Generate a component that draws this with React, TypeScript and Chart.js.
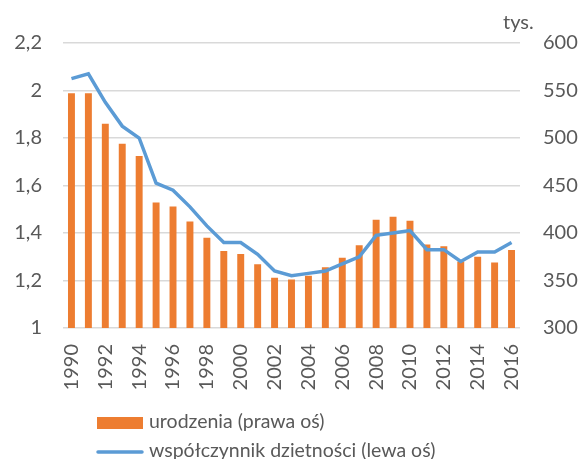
import React, { useEffect, useRef } from "react";
import { Chart, registerables } from "chart.js";

Chart.register(...registerables);

const years = ["1990","1991","1992","1993","1994","1995","1996","1997","1998","1999","2000","2001","2002","2003","2004","2005","2006","2007","2008","2009","2010","2011","2012","2013","2014","2015","2016"];
const births = [547, 547, 515, 494, 481, 432, 428, 412, 395, 381, 378, 367, 353, 351, 355, 364, 374, 387, 414, 417, 413, 388, 386, 370, 375, 369, 382];
const fertility = [2.05, 2.07, 1.95, 1.85, 1.80, 1.61, 1.58, 1.51, 1.43, 1.36, 1.36, 1.31, 1.24, 1.22, 1.23, 1.24, 1.27, 1.30, 1.39, 1.40, 1.41, 1.33, 1.33, 1.28, 1.32, 1.32, 1.36];
const barLabel = "urodzenia (prawa oś)";
const lineLabel = "współczynnik dzietności (lewa oś)";
const unitLabel = "tys.";

const FONT = "Lato";
const TEXT = "#595959";
const ORANGE = "#ED7D31";
const BLUE = "#5B9BD5";
const GRID = "#D9D9D9";

const overlay = {
  id: "overlay",
  afterDraw(chart: any) {
    const ctx = chart.ctx;
    ctx.save();
    ctx.fillStyle = TEXT;
    ctx.font = `20px ${FONT}`;
    ctx.textBaseline = "alphabetic";
    ctx.textAlign = "left";
    ctx.fillText(unitLabel, 503, 29);
    // legend
    ctx.font = `19.5px ${FONT}`;
    ctx.fillStyle = ORANGE;
    ctx.fillRect(97, 417, 46, 12);
    ctx.fillStyle = TEXT;
    ctx.textBaseline = "middle";
    ctx.fillText(barLabel, 149, 422);
    ctx.strokeStyle = BLUE;
    ctx.lineWidth = 3.5;
    ctx.lineCap = "round";
    ctx.beginPath();
    ctx.moveTo(98, 452);
    ctx.lineTo(142, 452);
    ctx.stroke();
    ctx.fillText(lineLabel, 149, 451);
    ctx.restore();
  },
};

export default function App() {
  const ref = useRef<HTMLCanvasElement | null>(null);
  useEffect(() => {
    if (!ref.current) return;
    const chart = new Chart(ref.current, {
      type: "bar",
      data: {
        labels: years,
        datasets: [
          {
            type: "line",
            label: lineLabel,
            data: fertility,
            yAxisID: "y",
            borderColor: BLUE,
            backgroundColor: BLUE,
            borderWidth: 3.5,
            pointRadius: 0,
            tension: 0,
            order: 0,
          } as any,
          {
            type: "bar",
            label: barLabel,
            data: births,
            yAxisID: "y1",
            backgroundColor: ORANGE,
            categoryPercentage: 1,
            barPercentage: 0.41,
            order: 1,
          } as any,
        ],
      },
      options: {
        responsive: false,
        animation: false,
        devicePixelRatio: 1,
        layout: { padding: { top: 43, bottom: 61, left: 0, right: 0 } },
        plugins: { legend: { display: false }, tooltip: { enabled: false } },
        scales: {
          x: {
            offset: true,
            grid: { display: false, drawTicks: false },
            border: { display: false },
            ticks: {
              autoSkip: false,
              minRotation: 90,
              maxRotation: 90,
              padding: 16,
              color: TEXT,
              font: { family: FONT, size: 20 },
              callback: (_v: any, i: number) => (i % 2 === 0 ? years[i] : ""),
            },
            afterFit: (s: any) => { s.height = 70; },
          },
          y: {
            position: "left",
            min: 1,
            max: 2.2,
            grid: { color: GRID, lineWidth: 1.5, drawTicks: false },
            border: { display: false },
            ticks: {
              stepSize: 0.2,
              padding: 21,
              color: TEXT,
              font: { family: FONT, size: 20 },
              callback: (v: any) => String(Math.round(Number(v) * 10) / 10).replace(".", ","),
            },
            afterFit: (s: any) => { s.width = 63; },
          },
          y1: {
            position: "right",
            min: 300,
            max: 600,
            grid: { display: false, drawTicks: false },
            border: { display: false },
            ticks: {
              stepSize: 50,
              padding: 23,
              color: TEXT,
              font: { family: FONT, size: 20 },
            },
            afterFit: (s: any) => { s.width = 62; },
          },
        },
      },
      plugins: [overlay],
    });
    return () => chart.destroy();
  }, []);
  return (
    <div style={{ position: "absolute", left: 0, top: 0, width: 582, height: 459, background: "#fff" }}>
      <canvas ref={ref} width={582} height={459} />
    </div>
  );
}
